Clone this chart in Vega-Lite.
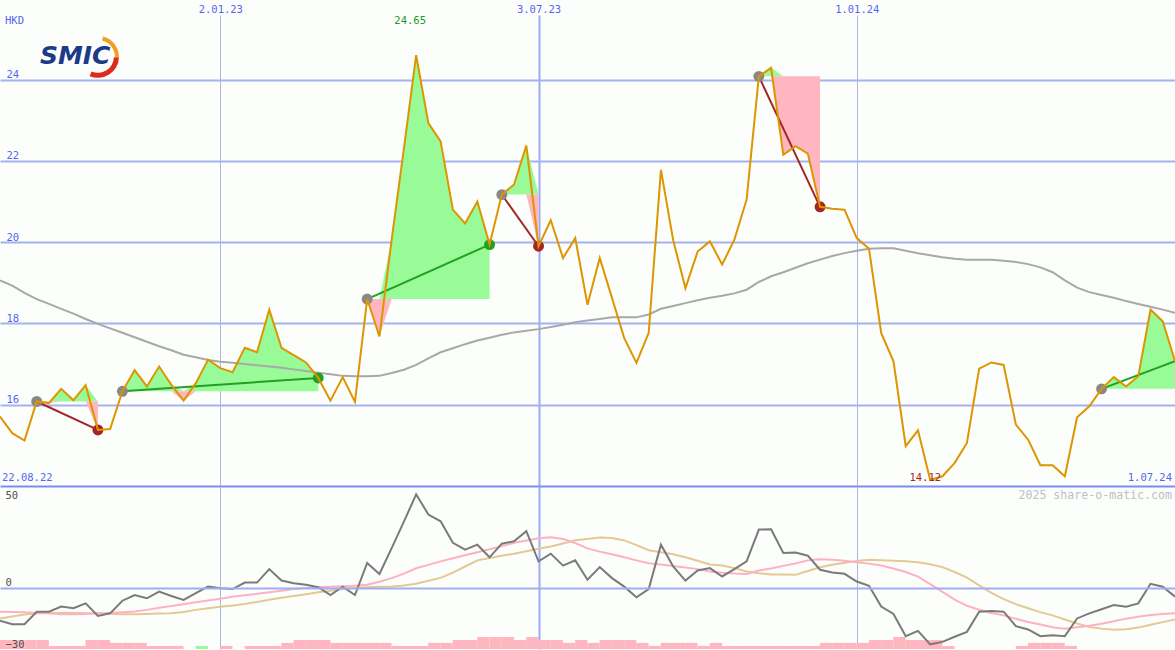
{
  "$schema": "https://vega.github.io/schema/vega-lite/v6.json",
  "background": "#fcfefc",
  "padding": {"top": 4, "left": 0, "right": 0, "bottom": 0},
  "spacing": 0,
  "config": {
    "view": {"stroke": null},
    "axis": {"labelFont": "DejaVu Sans Mono", "labelFontSize": 10.5, "domain": false, "ticks": false, "tickSize": 0}
  },
  "resolve": {"scale": {"x": "independent", "y": "independent"}},
  "datasets": {
    "wk": [
      {"d": "2022-08-29", "p": 15.71, "ma": 19.06, "m": -16.1, "s": -11.7, "l": -15.0, "vt": -25.6},
      {"d": "2022-09-05", "p": 15.30, "ma": 18.93, "m": -17.8, "s": -11.9, "l": -14.0, "vt": -25.6},
      {"d": "2022-09-12", "p": 15.12, "ma": 18.75, "m": -17.8, "s": -12.0, "l": -13.1, "vt": -25.6},
      {"d": "2022-09-19", "p": 16.08, "ma": 18.60, "m": -11.7, "s": -12.3, "l": -12.5, "vt": -25.6},
      {"d": "2022-09-26", "p": 16.04, "ma": 18.48, "m": -11.7, "s": -12.5, "l": -12.4, "vt": -28.5},
      {"d": "2022-10-03", "p": 16.39, "ma": 18.36, "m": -9.2, "s": -12.9, "l": -12.2, "vt": -28.5},
      {"d": "2022-10-10", "p": 16.11, "ma": 18.24, "m": -10.0, "s": -13.0, "l": -12.3, "vt": -28.5},
      {"d": "2022-10-17", "p": 16.48, "ma": 18.11, "m": -7.6, "s": -12.8, "l": -12.4, "vt": -25.6},
      {"d": "2022-10-24", "p": 15.38, "ma": 17.99, "m": -13.8, "s": -12.5, "l": -12.5, "vt": -25.6},
      {"d": "2022-10-31", "p": 15.40, "ma": 17.88, "m": -12.5, "s": -12.3, "l": -12.7, "vt": -27},
      {"d": "2022-11-07", "p": 16.33, "ma": 17.77, "m": -6.3, "s": -12.0, "l": -12.9, "vt": -27},
      {"d": "2022-11-14", "p": 16.85, "ma": 17.66, "m": -3.5, "s": -11.6, "l": -13.0, "vt": -27},
      {"d": "2022-11-21", "p": 16.45, "ma": 17.55, "m": -5.1, "s": -10.8, "l": -12.8, "vt": -28.5},
      {"d": "2022-11-28", "p": 16.94, "ma": 17.44, "m": -1.8, "s": -9.8, "l": -12.6, "vt": -28.5},
      {"d": "2022-12-05", "p": 16.49, "ma": 17.34, "m": -4.0, "s": -8.9, "l": -12.4, "vt": -28.5},
      {"d": "2022-12-12", "p": 16.10, "ma": 17.23, "m": -5.9, "s": -8.0, "l": -11.8, "vt": -30},
      {"d": "2022-12-19", "p": 16.53, "ma": 17.17, "m": -2.6, "s": -7.1, "l": -10.8, "vt": -28.5, "vc": "g"},
      {"d": "2022-12-26", "p": 17.11, "ma": 17.10, "m": 0.6, "s": -6.2, "l": -10.0, "vt": -30},
      {"d": "2023-01-02", "p": 16.90, "ma": 17.06, "m": -0.2, "s": -5.3, "l": -9.3, "vt": -28.5},
      {"d": "2023-01-09", "p": 16.80, "ma": 17.03, "m": -0.6, "s": -4.4, "l": -8.7, "vt": -30},
      {"d": "2023-01-16", "p": 17.40, "ma": 17.00, "m": 2.6, "s": -3.6, "l": -7.9, "vt": -28.5},
      {"d": "2023-01-23", "p": 17.29, "ma": 16.97, "m": 2.6, "s": -2.9, "l": -6.9, "vt": -28.5},
      {"d": "2023-01-30", "p": 18.34, "ma": 16.94, "m": 9.2, "s": -2.2, "l": -5.8, "vt": -28.5},
      {"d": "2023-02-06", "p": 17.40, "ma": 16.91, "m": 3.6, "s": -1.4, "l": -4.9, "vt": -27},
      {"d": "2023-02-13", "p": 17.22, "ma": 16.87, "m": 2.3, "s": -0.5, "l": -4.0, "vt": -25.6},
      {"d": "2023-02-20", "p": 17.04, "ma": 16.83, "m": 1.5, "s": 0.0, "l": -3.1, "vt": -25.6},
      {"d": "2023-02-27", "p": 16.66, "ma": 16.79, "m": 0.3, "s": 0.3, "l": -2.2, "vt": -25.6},
      {"d": "2023-03-06", "p": 16.10, "ma": 16.75, "m": -3.5, "s": 0.5, "l": -1.4, "vt": -27},
      {"d": "2023-03-13", "p": 16.68, "ma": 16.71, "m": 0.6, "s": 0.8, "l": -0.5, "vt": -27},
      {"d": "2023-03-20", "p": 16.07, "ma": 16.70, "m": -3.5, "s": 1.1, "l": 0.0, "vt": -27},
      {"d": "2023-03-27", "p": 18.60, "ma": 16.70, "m": 12.2, "s": 1.5, "l": 0.3, "vt": -27},
      {"d": "2023-04-03", "p": 17.68, "ma": 16.71, "m": 6.8, "s": 3.0, "l": 0.5, "vt": -27},
      {"d": "2023-04-10", "p": 20.06, "ma": 16.78, "m": 19.5, "s": 4.8, "l": 0.7, "vt": -28.5},
      {"d": "2023-04-17", "p": 22.30, "ma": 16.86, "m": 32.5, "s": 7.0, "l": 1.2, "vt": -28.5},
      {"d": "2023-04-24", "p": 24.60, "ma": 16.98, "m": 45.9, "s": 9.6, "l": 2.0, "vt": -28.5},
      {"d": "2023-05-01", "p": 22.93, "ma": 17.14, "m": 36.0, "s": 11.3, "l": 3.5, "vt": -27},
      {"d": "2023-05-08", "p": 22.48, "ma": 17.29, "m": 32.7, "s": 13.0, "l": 4.9, "vt": -27},
      {"d": "2023-05-15", "p": 20.80, "ma": 17.39, "m": 22.1, "s": 14.5, "l": 7.5, "vt": -25.6},
      {"d": "2023-05-22", "p": 20.46, "ma": 17.49, "m": 18.8, "s": 16.0, "l": 10.5, "vt": -25.6},
      {"d": "2023-05-29", "p": 21.00, "ma": 17.58, "m": 21.2, "s": 17.5, "l": 13.5, "vt": -24.1},
      {"d": "2023-06-05", "p": 19.94, "ma": 17.65, "m": 15.0, "s": 19.0, "l": 14.7, "vt": -24.1},
      {"d": "2023-06-12", "p": 21.17, "ma": 17.72, "m": 21.7, "s": 20.5, "l": 15.8, "vt": -24.1},
      {"d": "2023-06-19", "p": 21.42, "ma": 17.78, "m": 22.9, "s": 22.1, "l": 16.8, "vt": -25.6},
      {"d": "2023-06-26", "p": 22.38, "ma": 17.82, "m": 27.8, "s": 23.3, "l": 18.0, "vt": -24.1},
      {"d": "2023-07-03", "p": 19.90, "ma": 17.86, "m": 13.0, "s": 24.3, "l": 19.2, "vt": -25.6},
      {"d": "2023-07-10", "p": 20.54, "ma": 17.91, "m": 16.8, "s": 24.8, "l": 20.3, "vt": -25.6},
      {"d": "2023-07-17", "p": 19.61, "ma": 17.97, "m": 10.9, "s": 24.0, "l": 21.8, "vt": -27},
      {"d": "2023-07-24", "p": 20.10, "ma": 18.03, "m": 13.5, "s": 22.0, "l": 23.4, "vt": -25.6},
      {"d": "2023-07-31", "p": 18.46, "ma": 18.07, "m": 4.0, "s": 19.4, "l": 24.0, "vt": -27},
      {"d": "2023-08-07", "p": 19.61, "ma": 18.11, "m": 10.2, "s": 17.8, "l": 24.7, "vt": -25.6},
      {"d": "2023-08-14", "p": 18.63, "ma": 18.15, "m": 4.8, "s": 16.5, "l": 24.5, "vt": -25.6},
      {"d": "2023-08-21", "p": 17.64, "ma": 18.15, "m": 0.6, "s": 15.0, "l": 23.3, "vt": -25.6},
      {"d": "2023-08-28", "p": 17.03, "ma": 18.15, "m": -4.6, "s": 13.5, "l": 21.0, "vt": -27},
      {"d": "2023-09-04", "p": 17.77, "ma": 18.22, "m": -0.6, "s": 12.1, "l": 18.5, "vt": -28.5},
      {"d": "2023-09-11", "p": 21.78, "ma": 18.36, "m": 21.2, "s": 11.5, "l": 17.5, "vt": -27},
      {"d": "2023-09-18", "p": 20.05, "ma": 18.43, "m": 10.5, "s": 10.7, "l": 16.5, "vt": -27},
      {"d": "2023-09-25", "p": 18.87, "ma": 18.50, "m": 3.6, "s": 10.0, "l": 15.0, "vt": -27},
      {"d": "2023-10-02", "p": 19.77, "ma": 18.57, "m": 8.5, "s": 9.2, "l": 13.3, "vt": -28.5},
      {"d": "2023-10-09", "p": 20.02, "ma": 18.63, "m": 9.7, "s": 8.0, "l": 11.5, "vt": -27},
      {"d": "2023-10-16", "p": 19.45, "ma": 18.68, "m": 5.6, "s": 7.4, "l": 11.0, "vt": -28.5},
      {"d": "2023-10-23", "p": 20.06, "ma": 18.74, "m": 9.2, "s": 7.0, "l": 9.7, "vt": -28.5},
      {"d": "2023-10-30", "p": 21.05, "ma": 18.83, "m": 13.0, "s": 6.8, "l": 8.0, "vt": -28.5},
      {"d": "2023-11-06", "p": 24.08, "ma": 19.02, "m": 28.6, "s": 8.5, "l": 7.2, "vt": -28.5},
      {"d": "2023-11-13", "p": 24.29, "ma": 19.16, "m": 28.8, "s": 9.5, "l": 6.6, "vt": -28.5},
      {"d": "2023-11-20", "p": 22.15, "ma": 19.26, "m": 17.1, "s": 10.8, "l": 6.6, "vt": -28.5},
      {"d": "2023-11-27", "p": 22.36, "ma": 19.37, "m": 17.4, "s": 12.0, "l": 6.4, "vt": -28.5},
      {"d": "2023-12-04", "p": 22.18, "ma": 19.48, "m": 15.8, "s": 13.5, "l": 8.3, "vt": -28.5},
      {"d": "2023-12-11", "p": 20.87, "ma": 19.57, "m": 8.9, "s": 14.0, "l": 10.1, "vt": -27},
      {"d": "2023-12-18", "p": 20.82, "ma": 19.66, "m": 7.6, "s": 13.8, "l": 11.3, "vt": -27},
      {"d": "2023-12-25", "p": 20.80, "ma": 19.73, "m": 6.9, "s": 13.3, "l": 12.3, "vt": -27},
      {"d": "2024-01-01", "p": 20.10, "ma": 19.79, "m": 3.1, "s": 12.6, "l": 13.2, "vt": -27},
      {"d": "2024-01-08", "p": 19.84, "ma": 19.84, "m": 1.0, "s": 11.9, "l": 13.8, "vt": -25.6},
      {"d": "2024-01-15", "p": 17.76, "ma": 19.85, "m": -9.2, "s": 11.0, "l": 13.6, "vt": -25.6},
      {"d": "2024-01-22", "p": 17.07, "ma": 19.85, "m": -12.8, "s": 9.5, "l": 13.3, "vt": -24.1},
      {"d": "2024-01-29", "p": 14.98, "ma": 19.79, "m": -23.7, "s": 7.8, "l": 13.1, "vt": -25.6},
      {"d": "2024-02-05", "p": 15.37, "ma": 19.73, "m": -21.1, "s": 5.5, "l": 12.6, "vt": -25.6},
      {"d": "2024-02-12", "p": 14.15, "ma": 19.68, "m": -27.7, "s": 1.8, "l": 11.6, "vt": -25.6},
      {"d": "2024-02-19", "p": 14.24, "ma": 19.63, "m": -26.5, "s": -2.0, "l": 10.2, "vt": -28.5},
      {"d": "2024-02-26", "p": 14.57, "ma": 19.59, "m": -24.0, "s": -5.8, "l": 7.8, "vt": -30},
      {"d": "2024-03-04", "p": 15.06, "ma": 19.57, "m": -21.6, "s": -8.8, "l": 5.0, "vt": -30},
      {"d": "2024-03-11", "p": 16.89, "ma": 19.57, "m": -11.7, "s": -10.7, "l": 1.2, "vt": -30},
      {"d": "2024-03-18", "p": 17.04, "ma": 19.57, "m": -11.4, "s": -12.3, "l": -2.5, "vt": -30},
      {"d": "2024-03-25", "p": 16.98, "ma": 19.54, "m": -11.7, "s": -13.5, "l": -5.5, "vt": -30},
      {"d": "2024-04-01", "p": 15.51, "ma": 19.51, "m": -18.8, "s": -15.2, "l": -8.0, "vt": -28.5},
      {"d": "2024-04-08", "p": 15.14, "ma": 19.46, "m": -20.4, "s": -16.7, "l": -10.0, "vt": -27},
      {"d": "2024-04-15", "p": 14.51, "ma": 19.38, "m": -23.7, "s": -18.0, "l": -11.9, "vt": -27},
      {"d": "2024-04-22", "p": 14.51, "ma": 19.26, "m": -23.2, "s": -19.3, "l": -13.5, "vt": -27},
      {"d": "2024-04-29", "p": 14.24, "ma": 19.06, "m": -23.7, "s": -20.0, "l": -15.5, "vt": -28.5},
      {"d": "2024-05-06", "p": 15.69, "ma": 18.88, "m": -15.0, "s": -19.3, "l": -17.5, "vt": -30},
      {"d": "2024-05-13", "p": 15.96, "ma": 18.77, "m": -12.5, "s": -18.6, "l": -19.2, "vt": -30},
      {"d": "2024-05-20", "p": 16.39, "ma": 18.70, "m": -10.5, "s": -17.6, "l": -20.0, "vt": -30},
      {"d": "2024-05-27", "p": 16.68, "ma": 18.63, "m": -8.4, "s": -16.4, "l": -20.5, "vt": -30},
      {"d": "2024-06-03", "p": 16.45, "ma": 18.55, "m": -9.2, "s": -15.1, "l": -20.3, "vt": -30},
      {"d": "2024-06-10", "p": 16.70, "ma": 18.48, "m": -7.6, "s": -14.2, "l": -19.5, "vt": -30},
      {"d": "2024-06-17", "p": 18.34, "ma": 18.41, "m": 2.0, "s": -13.3, "l": -18.1, "vt": -30},
      {"d": "2024-06-24", "p": 18.05, "ma": 18.34, "m": 0.6, "s": -12.8, "l": -16.8, "vt": -30},
      {"d": "2024-07-01", "p": 17.07, "ma": 18.26, "m": -4.3, "s": -12.5, "l": -15.5, "vt": -30}
    ],
    "fills": [
      {"t": 1, "d": "2022-09-19", "e": 16.08, "g": 16.08, "l": 16.08},
      {"t": 1, "d": "2022-09-26", "e": 16.08, "g": 16.08, "l": 16.04},
      {"t": 1, "d": "2022-10-03", "e": 16.08, "g": 16.39, "l": 16.08},
      {"t": 1, "d": "2022-10-10", "e": 16.08, "g": 16.11, "l": 16.08},
      {"t": 1, "d": "2022-10-17", "e": 16.08, "g": 16.48, "l": 16.08},
      {"t": 1, "d": "2022-10-24", "e": 16.08, "g": 16.08, "l": 15.38},
      {"t": 2, "d": "2022-11-07", "e": 16.33, "g": 16.33, "l": 16.33},
      {"t": 2, "d": "2022-11-14", "e": 16.33, "g": 16.85, "l": 16.33},
      {"t": 2, "d": "2022-11-21", "e": 16.33, "g": 16.45, "l": 16.33},
      {"t": 2, "d": "2022-11-28", "e": 16.33, "g": 16.94, "l": 16.33},
      {"t": 2, "d": "2022-12-05", "e": 16.33, "g": 16.49, "l": 16.33},
      {"t": 2, "d": "2022-12-12", "e": 16.33, "g": 16.33, "l": 16.10},
      {"t": 2, "d": "2022-12-19", "e": 16.33, "g": 16.53, "l": 16.33},
      {"t": 2, "d": "2022-12-26", "e": 16.33, "g": 17.11, "l": 16.33},
      {"t": 2, "d": "2023-01-02", "e": 16.33, "g": 16.90, "l": 16.33},
      {"t": 2, "d": "2023-01-09", "e": 16.33, "g": 16.80, "l": 16.33},
      {"t": 2, "d": "2023-01-16", "e": 16.33, "g": 17.40, "l": 16.33},
      {"t": 2, "d": "2023-01-23", "e": 16.33, "g": 17.29, "l": 16.33},
      {"t": 2, "d": "2023-01-30", "e": 16.33, "g": 18.34, "l": 16.33},
      {"t": 2, "d": "2023-02-06", "e": 16.33, "g": 17.40, "l": 16.33},
      {"t": 2, "d": "2023-02-13", "e": 16.33, "g": 17.22, "l": 16.33},
      {"t": 2, "d": "2023-02-20", "e": 16.33, "g": 17.04, "l": 16.33},
      {"t": 2, "d": "2023-02-27", "e": 16.33, "g": 16.66, "l": 16.33},
      {"t": 3, "d": "2023-03-27", "e": 18.60, "g": 18.60, "l": 18.60},
      {"t": 3, "d": "2023-04-03", "e": 18.60, "g": 18.60, "l": 17.68},
      {"t": 3, "d": "2023-04-10", "e": 18.60, "g": 20.06, "l": 18.60},
      {"t": 3, "d": "2023-04-17", "e": 18.60, "g": 22.30, "l": 18.60},
      {"t": 3, "d": "2023-04-24", "e": 18.60, "g": 24.60, "l": 18.60},
      {"t": 3, "d": "2023-05-01", "e": 18.60, "g": 22.93, "l": 18.60},
      {"t": 3, "d": "2023-05-08", "e": 18.60, "g": 22.48, "l": 18.60},
      {"t": 3, "d": "2023-05-15", "e": 18.60, "g": 20.80, "l": 18.60},
      {"t": 3, "d": "2023-05-22", "e": 18.60, "g": 20.46, "l": 18.60},
      {"t": 3, "d": "2023-05-29", "e": 18.60, "g": 21.00, "l": 18.60},
      {"t": 3, "d": "2023-06-05", "e": 18.60, "g": 19.94, "l": 18.60},
      {"t": 4, "d": "2023-06-12", "e": 21.17, "g": 21.17, "l": 21.17},
      {"t": 4, "d": "2023-06-19", "e": 21.17, "g": 21.42, "l": 21.17},
      {"t": 4, "d": "2023-06-26", "e": 21.17, "g": 22.38, "l": 21.17},
      {"t": 4, "d": "2023-07-03", "e": 21.17, "g": 21.17, "l": 19.90},
      {"t": 5, "d": "2023-11-06", "e": 24.08, "g": 24.08, "l": 24.08},
      {"t": 5, "d": "2023-11-13", "e": 24.08, "g": 24.29, "l": 24.08},
      {"t": 5, "d": "2023-11-20", "e": 24.08, "g": 24.08, "l": 22.15},
      {"t": 5, "d": "2023-11-27", "e": 24.08, "g": 24.08, "l": 22.36},
      {"t": 5, "d": "2023-12-04", "e": 24.08, "g": 24.08, "l": 22.18},
      {"t": 5, "d": "2023-12-11", "e": 24.08, "g": 24.08, "l": 20.87},
      {"t": 6, "d": "2024-05-20", "e": 16.39, "g": 16.39, "l": 16.39},
      {"t": 6, "d": "2024-05-27", "e": 16.39, "g": 16.68, "l": 16.39},
      {"t": 6, "d": "2024-06-03", "e": 16.39, "g": 16.45, "l": 16.39},
      {"t": 6, "d": "2024-06-10", "e": 16.39, "g": 16.70, "l": 16.39},
      {"t": 6, "d": "2024-06-17", "e": 16.39, "g": 18.34, "l": 16.39},
      {"t": 6, "d": "2024-06-24", "e": 16.39, "g": 18.05, "l": 16.39},
      {"t": 6, "d": "2024-07-01", "e": 16.39, "g": 17.07, "l": 16.39}
    ],
    "trades": [
      {"t": 1, "r": "loss", "d": "2022-09-19", "p": 16.08},
      {"t": 1, "r": "loss", "d": "2022-10-24", "p": 15.38},
      {"t": 2, "r": "win", "d": "2022-11-07", "p": 16.33},
      {"t": 2, "r": "win", "d": "2023-02-27", "p": 16.66},
      {"t": 3, "r": "win", "d": "2023-03-27", "p": 18.60},
      {"t": 3, "r": "win", "d": "2023-06-05", "p": 19.94},
      {"t": 4, "r": "loss", "d": "2023-06-12", "p": 21.17},
      {"t": 4, "r": "loss", "d": "2023-07-03", "p": 19.90},
      {"t": 5, "r": "loss", "d": "2023-11-06", "p": 24.08},
      {"t": 5, "r": "loss", "d": "2023-12-11", "p": 20.87},
      {"t": 6, "r": "win", "d": "2024-05-20", "p": 16.39},
      {"t": 6, "r": "win", "d": "2024-07-01", "p": 17.07}
    ],
    "dots": [
      {"k": "entry", "d": "2022-09-19", "p": 16.08},
      {"k": "loss", "d": "2022-10-24", "p": 15.38},
      {"k": "entry", "d": "2022-11-07", "p": 16.33},
      {"k": "win", "d": "2023-02-27", "p": 16.66},
      {"k": "entry", "d": "2023-03-27", "p": 18.60},
      {"k": "win", "d": "2023-06-05", "p": 19.94},
      {"k": "entry", "d": "2023-06-12", "p": 21.17},
      {"k": "loss", "d": "2023-07-03", "p": 19.90},
      {"k": "entry", "d": "2023-11-06", "p": 24.08},
      {"k": "loss", "d": "2023-12-11", "p": 20.87},
      {"k": "entry", "d": "2024-05-20", "p": 16.39}
    ]
  },
  "vconcat": [
    {
      "width": 1175,
      "height": 471,
      "resolve": {"scale": {"color": "independent"}},
      "encoding": {
        "x": {
          "field": "d", "type": "temporal",
          "scale": {"type": "utc", "padding": 0, "domain": [{"year": 2022, "month": 8, "date": 29, "utc": true}, {"year": 2024, "month": 7, "date": 1, "utc": true}]},
          "axis": {
            "orient": "top", "title": null,
            "values": [{"year": 2023, "month": 1, "date": 2, "utc": true}, {"year": 2023, "month": 7, "date": 3, "utc": true}, {"year": 2024, "month": 1, "date": 1, "utc": true}],
            "labelExpr": "utcFormat(datum.value, '%-d.%m.%y')",
            "labelColor": "#5566ee", "labelPadding": 3, "labelBaseline": "alphabetic",
            "grid": true, "gridColor": {"condition": {"test": "utcmonth(datum.value) == 6", "value": "#9aabf4"}, "value": "#aeb4e4"},
            "gridWidth": {"condition": {"test": "utcmonth(datum.value) == 6", "value": 2}, "value": 1}
          }
        }
      },
      "layer": [
        {
          "data": {"name": "fills"},
          "mark": {"type": "area", "color": "#98fb98", "opacity": 1, "clip": true},
          "encoding": {
            "y": {
              "field": "g", "type": "quantitative",
              "scale": {"domain": [14.0, 25.59], "nice": false, "zero": false},
              "axis": {
                "title": null, "values": [14, 16, 18, 20, 22, 24],
                "labelAlign": "left", "labelBaseline": "bottom", "labelPadding": -6,
                "labelColor": "#5566ee",
                "labelExpr": "datum.value == 14 ? '' : datum.label",
                "grid": true, "gridWidth": 2,
                "gridColor": {"condition": {"test": "datum.value == 14", "value": "#7b8cf0"}, "value": "#a6b2f0"}
              }
            },
            "y2": {"field": "e"},
            "detail": {"field": "t", "type": "nominal"}
          }
        },
        {
          "data": {"name": "fills"},
          "mark": {"type": "area", "color": "#ffb6c1", "opacity": 1, "clip": true},
          "encoding": {
            "y": {"field": "l", "type": "quantitative", "scale": {"domain": [14.0, 25.59], "nice": false, "zero": false}},
            "y2": {"field": "e"},
            "detail": {"field": "t", "type": "nominal"}
          }
        },
        {
          "data": {"name": "wk"},
          "mark": {"type": "line", "color": "#a8a8a8", "strokeWidth": 2, "clip": true},
          "encoding": {
            "y": {"field": "ma", "type": "quantitative", "scale": {"domain": [14.0, 25.59], "nice": false, "zero": false}}
          }
        },
        {
          "data": {"name": "trades"},
          "mark": {"type": "line", "strokeWidth": 2, "clip": true},
          "encoding": {
            "y": {"field": "p", "type": "quantitative", "scale": {"domain": [14.0, 25.59], "nice": false, "zero": false}},
            "detail": {"field": "t", "type": "nominal"},
            "color": {"field": "r", "type": "nominal", "scale": {"domain": ["loss", "win"], "range": ["#a52525", "#22a022"]}, "legend": null}
          }
        },
        {
          "data": {"name": "dots"},
          "mark": {"type": "point", "filled": true, "size": 120, "opacity": 1},
          "encoding": {
            "y": {"field": "p", "type": "quantitative", "scale": {"domain": [14.0, 25.59], "nice": false, "zero": false}},
            "color": {"field": "k", "type": "nominal", "scale": {"domain": ["entry", "loss", "win"], "range": ["#888888", "#a52525", "#22a022"]}, "legend": null}
          }
        },
        {
          "data": {"name": "wk"},
          "mark": {"type": "line", "color": "#dd9500", "strokeWidth": 2, "clip": true},
          "encoding": {
            "y": {"field": "p", "type": "quantitative", "scale": {"domain": [14.0, 25.59], "nice": false, "zero": false}}
          }
        },
        {
          "data": {"values": [{"d": "2022-08-29", "p": 25.59, "txt": "HKD"}]},
          "mark": {"type": "text", "align": "left", "baseline": "top", "dx": 5, "dy": 1, "font": "DejaVu Sans Mono", "fontSize": 10.5, "color": "#5566ee"},
          "encoding": {
            "y": {"field": "p", "type": "quantitative", "scale": {"domain": [14.0, 25.59], "nice": false, "zero": false}},
            "text": {"field": "txt"}
          }
        },
        {
          "data": {"values": [{"d": "2023-04-24", "p": 25.59, "txt": "24.65"}]},
          "mark": {"type": "text", "align": "center", "baseline": "top", "dx": -6, "dy": 1, "font": "DejaVu Sans Mono", "fontSize": 10.5, "color": "#229922"},
          "encoding": {
            "y": {"field": "p", "type": "quantitative", "scale": {"domain": [14.0, 25.59], "nice": false, "zero": false}},
            "text": {"field": "txt"}
          }
        },
        {
          "data": {"values": [{"d": "2024-02-12", "p": 14.0, "txt": "14.12"}]},
          "mark": {"type": "text", "align": "center", "baseline": "bottom", "dx": -5, "dy": -3, "font": "DejaVu Sans Mono", "fontSize": 10.5, "color": "#a52525"},
          "encoding": {
            "y": {"field": "p", "type": "quantitative", "scale": {"domain": [14.0, 25.59], "nice": false, "zero": false}},
            "text": {"field": "txt"}
          }
        },
        {
          "data": {"values": [{"d": "2022-08-29", "p": 14.0, "txt": "22.08.22"}]},
          "mark": {"type": "text", "align": "left", "baseline": "bottom", "dx": 2, "dy": -3, "font": "DejaVu Sans Mono", "fontSize": 10.5, "color": "#5566ee"},
          "encoding": {
            "y": {"field": "p", "type": "quantitative", "scale": {"domain": [14.0, 25.59], "nice": false, "zero": false}},
            "text": {"field": "txt"}
          }
        },
        {
          "data": {"values": [{"d": "2024-07-01", "p": 14.0, "txt": "1.07.24"}]},
          "mark": {"type": "text", "align": "right", "baseline": "bottom", "dx": -3, "dy": -3, "font": "DejaVu Sans Mono", "fontSize": 10.5, "color": "#5566ee"},
          "encoding": {
            "y": {"field": "p", "type": "quantitative", "scale": {"domain": [14.0, 25.59], "nice": false, "zero": false}},
            "text": {"field": "txt"}
          }
        },
        {
          "data": {"values": [{"d": "2022-10-24", "p": 24.56}]},
          "mark": {"type": "arc", "radius": 21, "radius2": 17, "theta": 0.25, "theta2": 1.6, "color": "#f0a020"},
          "encoding": {
            "y": {"field": "p", "type": "quantitative", "scale": {"domain": [14.0, 25.59], "nice": false, "zero": false}}
          }
        },
        {
          "data": {"values": [{"d": "2022-10-24", "p": 24.56}]},
          "mark": {"type": "arc", "radius": 21, "radius2": 16, "theta": 1.6, "theta2": 3.55, "color": "#dc2a1c"},
          "encoding": {
            "y": {"field": "p", "type": "quantitative", "scale": {"domain": [14.0, 25.59], "nice": false, "zero": false}}
          }
        },
        {
          "data": {"values": [{"d": "2022-10-11", "p": 24.58, "txt": "SMIC"}]},
          "mark": {"type": "text", "align": "center", "baseline": "middle", "font": "DejaVu Sans", "fontSize": 25, "fontWeight": "bold", "fontStyle": "italic", "color": "#1d3a8a"},
          "encoding": {
            "y": {"field": "p", "type": "quantitative", "scale": {"domain": [14.0, 25.59], "nice": false, "zero": false}},
            "text": {"field": "txt"}
          }
        }
      ]
    },
    {
      "width": 1175,
      "height": 163,
      "encoding": {
        "x": {
          "field": "d", "type": "temporal",
          "scale": {"type": "utc", "padding": 0, "domain": [{"year": 2022, "month": 8, "date": 29, "utc": true}, {"year": 2024, "month": 7, "date": 1, "utc": true}]},
          "axis": {
            "title": null, "labels": false,
            "values": [{"year": 2023, "month": 1, "date": 2, "utc": true}, {"year": 2023, "month": 7, "date": 3, "utc": true}, {"year": 2024, "month": 1, "date": 1, "utc": true}],
            "grid": true, "gridColor": {"condition": {"test": "utcmonth(datum.value) == 6", "value": "#9aabf4"}, "value": "#aeb4e4"},
            "gridWidth": {"condition": {"test": "utcmonth(datum.value) == 6", "value": 2}, "value": 1}
          }
        }
      },
      "layer": [
        {
          "data": {"name": "wk"},
          "mark": {"type": "bar", "width": 12.3, "xOffset": 6, "clip": true},
          "encoding": {
            "y": {
              "field": "vt", "type": "quantitative",
              "scale": {"domain": [-30, 50], "nice": false, "zero": false},
              "axis": {
                "title": null, "values": [-30, 0, 50], "zindex": 1,
                "labelAlign": "left", "labelPadding": -5, "labelColor": "#505050",
                "labelBaseline": {"condition": {"test": "datum.value == 50", "value": "top"}, "value": "bottom"},
                "labelOffset": {"condition": {"test": "datum.value == 50", "value": 4}, "value": 0},
                "grid": true, "gridWidth": 2, "gridColor": "#9eaef0",
                "gridOpacity": {"condition": {"test": "datum.value == 0", "value": 1}, "value": 0}
              }
            },
            "y2": {"datum": -30},
            "color": {"condition": {"test": "datum.vc == 'g'", "value": "#98fb98"}, "value": "#ffb6c1"}
          }
        },
        {
          "data": {"name": "wk"},
          "mark": {"type": "line", "color": "#e3c994", "strokeWidth": 2, "clip": true},
          "encoding": {"y": {"field": "l", "type": "quantitative", "scale": {"domain": [-30, 50], "nice": false, "zero": false}}}
        },
        {
          "data": {"name": "wk"},
          "mark": {"type": "line", "color": "#ffb0c4", "strokeWidth": 2, "clip": true},
          "encoding": {"y": {"field": "s", "type": "quantitative", "scale": {"domain": [-30, 50], "nice": false, "zero": false}}}
        },
        {
          "data": {"name": "wk"},
          "mark": {"type": "line", "color": "#7a7a7a", "strokeWidth": 2, "clip": true},
          "encoding": {"y": {"field": "m", "type": "quantitative", "scale": {"domain": [-30, 50], "nice": false, "zero": false}}}
        },
        {
          "data": {"values": [{"d": "2024-07-01", "v": 50, "txt": "2025 share-o-matic.com"}]},
          "mark": {"type": "text", "align": "right", "baseline": "top", "dx": -3, "dy": 4, "font": "DejaVu Sans Mono", "fontSize": 11.6, "color": "#c0c0c0"},
          "encoding": {
            "y": {"field": "v", "type": "quantitative", "scale": {"domain": [-30, 50], "nice": false, "zero": false}},
            "text": {"field": "txt"}
          }
        }
      ]
    }
  ]
}
